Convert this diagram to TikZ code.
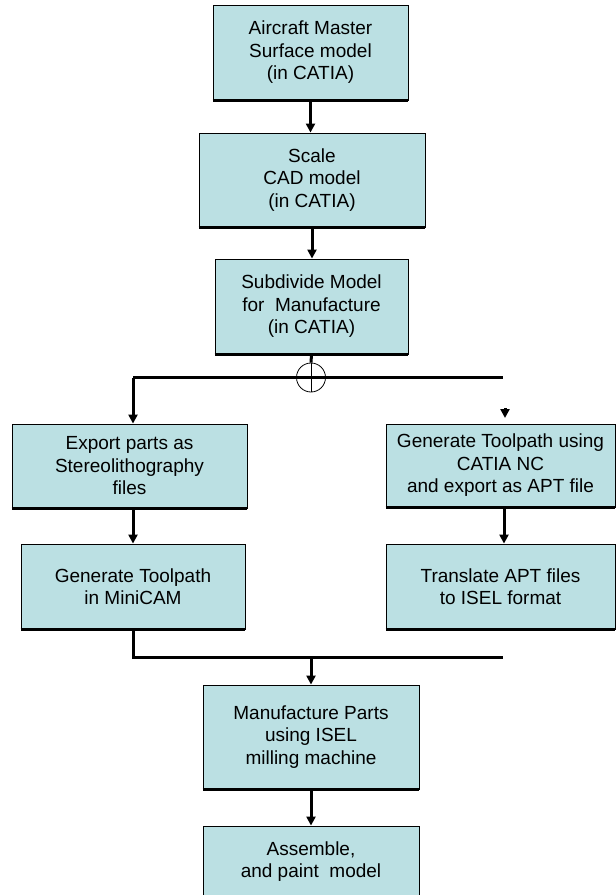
\documentclass[tikz,border=0pt]{standalone}
\usepackage{fontspec}
\setmainfont{Liberation Sans}
\usetikzlibrary{arrows.meta}
\definecolor{boxblue}{RGB}{187,224,227}
\begin{document}
\begin{tikzpicture}[x=1pt,y=-1pt,
  stepbox/.style={rectangle,fill=boxblue,draw=black,line width=0.9pt,inner sep=0pt,align=center,
    font=\fontsize{19}{22.5}\selectfont},
  arr/.style={line width=3pt,-{Triangle[width=9pt,length=9pt]}},
  thickline/.style={line width=3pt},
  bottomedge/.style={line width=3pt}]
\useasboundingbox (0,0) rectangle (616,895);
\clip (0,0) rectangle (616,895);
\fill[white] (0,0) rectangle (616,895);

\node[stepbox,minimum width=195pt,minimum height=95pt] (b1) at (310.5,52.5) {Aircraft Master\\Surface model\\ (in CATIA)};
\node[stepbox,minimum width=226pt,minimum height=94pt] (b2) at (312,180) {Scale\\CAD model\\(in CATIA)};
\node[stepbox,minimum width=193pt,minimum height=95pt] (b3) at (311.5,306.5) {Subdivide Model\\for\ \ Manufacture\\(in CATIA)};
\node[stepbox,minimum width=235pt,minimum height=84pt] (b4) at (129.5,466) {Export parts as\\Stereolithography\\files};
\node[stepbox,minimum width=229pt,minimum height=83pt] (b5) at (500.5,465.5) {Generate Toolpath using\\CATIA NC\\and export as APT file};
\node[stepbox,minimum width=224pt,minimum height=85pt] (b6) at (133,586.5) {Generate Toolpath\\in MiniCAM};
\node[stepbox,minimum width=229pt,minimum height=85pt] (b7) at (500.5,586.5) {Translate APT files\\to ISEL format};
\node[stepbox,minimum width=216pt,minimum height=104pt] (b8) at (311,737) {Manufacture Parts\\using ISEL\\ milling machine};
\node[stepbox,minimum width=216pt,minimum height=71pt] (b9) at (311,861.5) {Assemble,\\and paint\ \ model};

\foreach \b in {b1,b2,b3,b4,b5,b6,b7,b8}
  \draw[bottomedge] (\b.south west) -- (\b.south east);

% main column
\draw[arr] (b1.south) -- (b1.south |- b2.north);
\draw[arr] (b2.south) -- (b2.south |- b3.north);

% junction
\node[circle,draw=black,line width=0.8pt,minimum size=29pt,inner sep=0pt] (j) at (311,377.5) {};
\draw[thickline] (b3.south) -- (j.north);
\draw[line width=0.8pt] (j.north) -- (j.south);
\coordinate (L) at (133,377.5);
\coordinate (R) at (503,377.5);
\draw[thickline] (L) -- (R);
\draw[arr] (L) -- (L |- b4.north);
\coordinate (RA) at (505,408);
\coordinate (RB) at (505,418);
\draw[arr] (RA) -- (RB);

% columns
\draw[arr] ([xshift=3.5pt]b4.south) -- ([xshift=3.5pt]b4.south |- b6.north);
\draw[arr] ([xshift=3.5pt]b5.south) -- ([xshift=3.5pt]b5.south |- b7.north);

% merge
\coordinate (M1) at (133,657);
\coordinate (M2) at (503,657);
\coordinate (MJ) at (311,657);
\draw[thickline] (b6.south) -- (M1) -- (M2);
\draw[arr] (MJ) -- (b8.north);
\draw[arr] (b8.south) -- (b9.north);
\end{tikzpicture}
\end{document}
